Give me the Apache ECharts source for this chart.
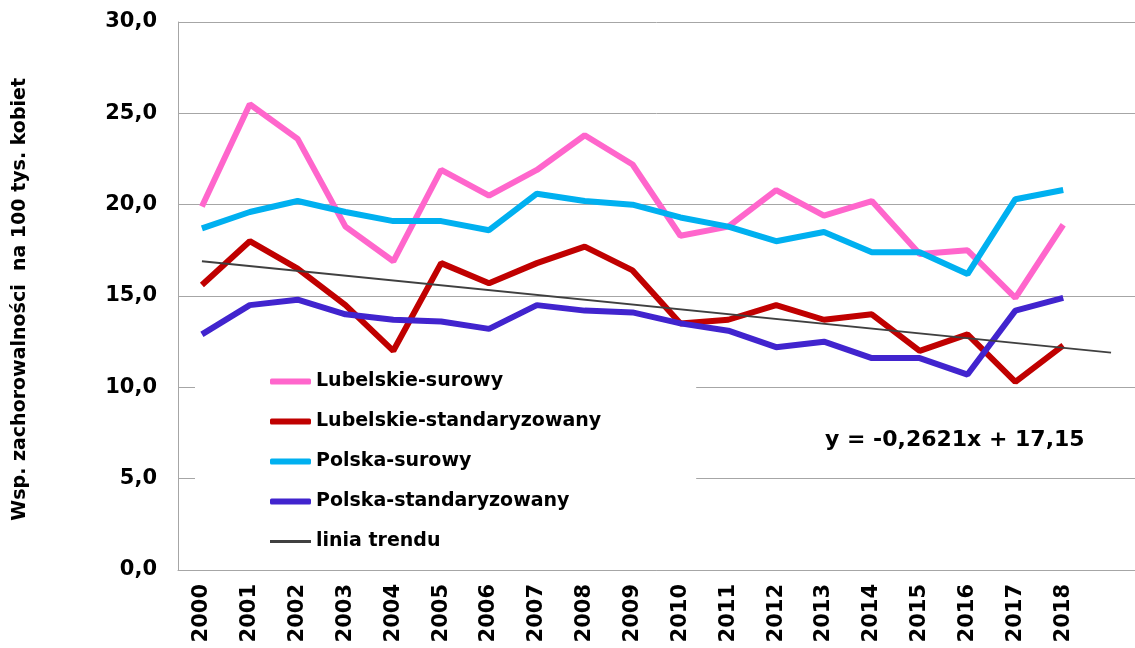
<!DOCTYPE html>
<html>
<head>
<meta charset="utf-8">
<script src="https://cdn.jsdelivr.net/npm/echarts@6/dist/echarts.min.js"></script>
<style>
  html, body { margin: 0; padding: 0; background: #fff; }
  #chart { width: 1135px; height: 648px; }
</style>
</head>
<body>
<div id="chart"></div>
<script>
// lata (ostatnia pozycja pusta - tam konczy sie linia trendu)
var years = ['2000','2001','2002','2003','2004','2005','2006','2007','2008','2009',
             '2010','2011','2012','2013','2014','2015','2016','2017','2018',''];

var lubSurowy = [19.9, 25.5, 23.6, 18.8, 16.9, 21.9, 20.5, 21.9, 23.8, 22.2,
                 18.3, 18.8, 20.8, 19.4, 20.2, 17.3, 17.5, 14.9, 18.9];
var lubStand  = [15.6, 18.0, 16.5, 14.5, 12.0, 16.8, 15.7, 16.8, 17.7, 16.4,
                 13.5, 13.7, 14.5, 13.7, 14.0, 12.0, 12.9, 10.3, 12.3];
var plSurowy  = [18.7, 19.6, 20.2, 19.6, 19.1, 19.1, 18.6, 20.6, 20.2, 20.0,
                 19.3, 18.8, 18.0, 18.5, 17.4, 17.4, 16.2, 20.3, 20.8];
var plStand   = [12.9, 14.5, 14.8, 14.0, 13.7, 13.6, 13.2, 14.5, 14.2, 14.1,
                 13.5, 13.1, 12.2, 12.5, 11.6, 11.6, 10.7, 14.2, 14.9];
// linia trendu: poczatek (2000) i koniec (pozycja 20)
var trend = [16.9, null, null, null, null, null, null, null, null, null,
             null, null, null, null, null, null, null, null, null, 11.9];

var yTicks = { min: 0, max: 30, interval: 5 };

var seriesNames = ['Lubelskie-surowy', 'Lubelskie-standaryzowany', 'Polska-surowy',
                   'Polska-standaryzowany', 'linia trendu'];
var colors = ['#FF66CC', '#C00000', '#00B0F0', '#4124CE', '#404040'];

var font = 'DejaVu Sans';

var myChart = echarts.init(document.getElementById('chart'));

function lineSeries (idx, data, width) {
    return {
        name: seriesNames[idx],
        type: 'line',
        data: data,
        symbol: 'none',
        connectNulls: true,
        color: colors[idx],
        lineStyle: { width: width, color: colors[idx] },
        z: 3
    };
}

myChart.setOption({
    animation: false,
    grid: { left: 178, top: 22, width: 960, height: 548 },
    xAxis: {
        type: 'category',
        data: years,
        boundaryGap: true,
        axisLine: { lineStyle: { color: '#a6a6a6', width: 1 } },
        axisTick: { show: false },
        axisLabel: {
            rotate: 90,
            margin: 14,
            interval: 0,
            color: '#000',
            fontFamily: font,
            fontWeight: 'bold',
            fontSize: 21
        }
    },
    yAxis: {
        type: 'value',
        min: yTicks.min,
        max: yTicks.max,
        interval: yTicks.interval,
        axisLine: { show: true, lineStyle: { color: '#a6a6a6', width: 1 } },
        axisTick: { show: false },
        splitLine: { lineStyle: { color: '#a6a6a6', width: 1 } },
        axisLabel: {
            margin: 21,
            color: '#000',
            fontFamily: font,
            fontWeight: 'bold',
            fontSize: 21,
            formatter: function (v) { return v.toFixed(1).replace('.', ','); }
        }
    },
    legend: {
        orient: 'vertical',
        left: 195,
        top: 362,
        itemGap: 21,
        itemWidth: 41,
        itemHeight: 6,
        padding: [10, 95, 16, 75],
        backgroundColor: '#fff',
        textStyle: {
            color: '#000',
            fontFamily: font,
            fontWeight: 'bold',
            fontSize: 19
        },
        data: [
            { name: seriesNames[0], icon: 'roundRect' },
            { name: seriesNames[1], icon: 'roundRect' },
            { name: seriesNames[2], icon: 'roundRect' },
            { name: seriesNames[3], icon: 'roundRect' },
            { name: seriesNames[4], icon: 'path://M0,0L40,0L40,3L0,3Z' }
        ]
    },
    graphic: [
        {
            type: 'text',
            left: 11,
            top: 78,
            rotation: Math.PI / 2,
            style: {
                text: 'Wsp. zachorowalności  na 100 tys. kobiet',
                fill: '#000',
                font: 'bold 19px "DejaVu Sans"'
            }
        },
        {
            type: 'text',
            left: 825,
            top: 429,
            style: {
                text: 'y = -0,2621x + 17,15',
                fill: '#000',
                font: 'bold 22px "DejaVu Sans"'
            }
        }
    ],
    series: [
        lineSeries(0, lubSurowy, 6),
        lineSeries(1, lubStand, 6),
        lineSeries(2, plSurowy, 6),
        lineSeries(3, plStand, 6),
        lineSeries(4, trend, 2)
    ]
});
</script>
</body>
</html>
